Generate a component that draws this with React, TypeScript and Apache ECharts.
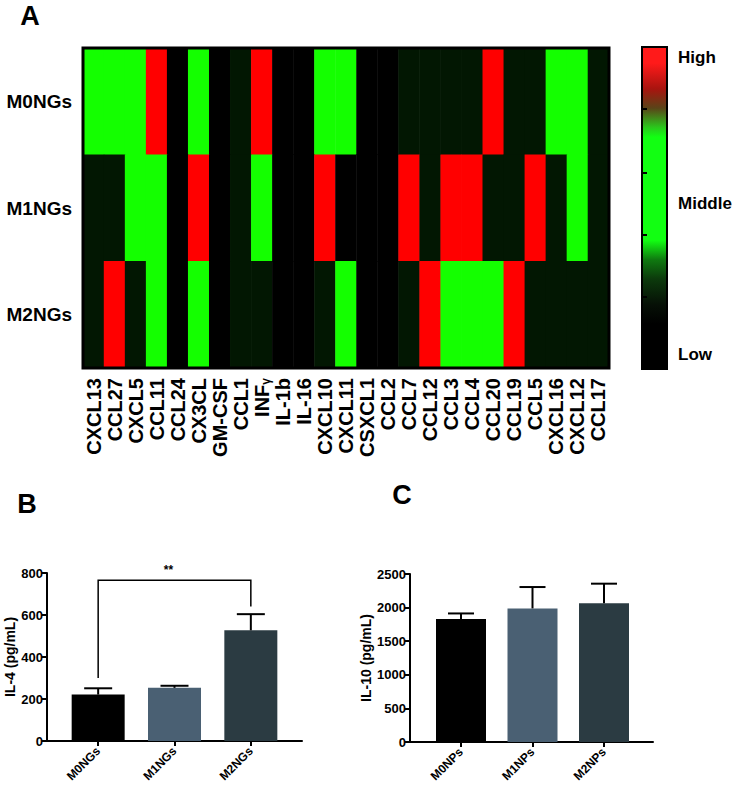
import React, { useEffect, useRef } from "react";
import * as echarts from "echarts";

// ---------- data ----------
const heatCats = [
  "CXCL13", "CCL27", "CXCL5", "CCL11", "CCL24", "CX3CL", "GM-CSF", "CCL1", "INFγ", "IL-1b",
  "IL-16", "CXCL10", "CXCL11", "CSXCL1", "CCL2", "CCL7", "CCL12", "CCL3", "CCL4", "CCL20",
  "CCL19", "CCL5", "CXCL16", "CXCL12", "CCL17",
];
const heatRows = ["M0NGs", "M1NGs", "M2NGs"];
// 0 = low (black), 1 = low-ish (dark green), 2 = middle (green), 3 = high (red)
const heatM0 = [2, 2, 2, 3, 0, 2, 0, 1, 3, 0, 0, 2, 2, 0, 0, 1, 1, 1, 1, 3, 1, 1, 2, 2, 1];
const heatM1 = [1, 1, 2, 2, 0, 3, 0, 1, 2, 0, 0, 3, 0, 0, 0, 3, 1, 3, 3, 1, 1, 3, 1, 2, 1];
const heatM2 = [1, 3, 1, 2, 0, 2, 0, 1, 1, 0, 0, 1, 2, 0, 0, 1, 3, 2, 2, 2, 3, 1, 1, 1, 1];
const legendLabels = ["High", "Middle", "Low"];

const il4Cats = ["M0NGs", "M1NGs", "M2NGs"];
const il4Mean = [221, 253, 527];
const il4Err = [30, 10, 77];
const il4Ticks = [0, 200, 400, 600, 800];
const il4Bracket = { left: 300, top: 765, right: 640, label: "**" };

const il10Cats = ["M0NPs", "M1NPs", "M2NPs"];
const il10Mean = [1829, 1988, 2063];
const il10Err = [84, 318, 293];
const il10Ticks = [0, 500, 1000, 1500, 2000, 2500];

const barColors = ["#000000", "#4a6073", "#2b3b42"];

const FONT = "'Liberation Sans', Arial, Helvetica, sans-serif";

function buildOption() {
  const heatData: number[][] = [];
  [heatM0, heatM1, heatM2].forEach((row, r) => {
    row.forEach((v, c) => heatData.push([c, r, v]));
  });

  const errRender = (capHalf: number) => (params: any, api: any) => {
    const i = api.value(0);
    const m = api.value(1);
    const e = api.value(2);
    const p0 = api.coord([i, m]);
    const p1 = api.coord([i, m + e]);
    return {
      type: "group",
      children: [
        { type: "line", shape: { x1: p0[0], y1: p0[1], x2: p1[0], y2: p1[1] }, style: { stroke: "#000", lineWidth: 2 } },
        { type: "line", shape: { x1: p1[0] - capHalf, y1: p1[1], x2: p1[0] + capHalf, y2: p1[1] }, style: { stroke: "#000", lineWidth: 2 } },
      ],
    };
  };

  const valueAxisCommon = (min: number, max: number, interval: number, name: string, gap: number, gridIndex: number) => ({
    type: "value",
    gridIndex,
    min,
    max,
    interval,
    name,
    nameLocation: "middle",
    nameGap: gap,
    nameTextStyle: { fontFamily: FONT, fontWeight: "bold", fontSize: 14, color: "#000" },
    axisLine: { show: true, lineStyle: { color: "#000", width: 2 } },
    axisTick: { show: true, length: 5, lineStyle: { color: "#000", width: 2 } },
    axisLabel: { fontFamily: FONT, fontWeight: "bold", fontSize: 13, color: "#000", margin: 4, formatter: (v: number) => String(v) },
    splitLine: { show: false },
  });

  const hiddenValueY = (min: number, max: number, gridIndex: number) => ({
    type: "value", gridIndex, min, max, show: false,
  });

  const baseXLine = (gridIndex: number) => ({
    type: "value", gridIndex, min: 0, max: 1,
    axisLine: { show: true, onZero: false, lineStyle: { color: "#000", width: 2 } },
    axisTick: { show: false }, axisLabel: { show: false }, splitLine: { show: false },
  });

  const catX = (cats: string[], gridIndex: number) => ({
    type: "category", gridIndex, data: cats,
    axisLine: { show: false },
    axisTick: { show: true, alignWithLabel: true, length: 5, lineStyle: { color: "#000", width: 2 } },
    axisLabel: { rotate: 45, fontFamily: FONT, fontWeight: "bold", fontSize: 12, color: "#000", margin: 8, interval: 0 },
  });

  const gradient = new echarts.graphic.LinearGradient(0, 0, 0, 1, [
    { offset: 0, color: "#ff1a1a" },
    { offset: 0.05, color: "#ff1a1a" },
    { offset: 0.13, color: "#a8140f" },
    { offset: 0.19, color: "#5a4418" },
    { offset: 0.25, color: "#2ac81c" },
    { offset: 0.28, color: "#12ff12" },
    { offset: 0.6, color: "#12ff12" },
    { offset: 0.66, color: "#0f7a10" },
    { offset: 0.72, color: "#0c3a0c" },
    { offset: 0.8, color: "#061006" },
    { offset: 0.86, color: "#000000" },
    { offset: 1, color: "#000000" },
  ]);

  const legendTicks = [109, 173, 235, 297].map((y) => ({
    type: "line", shape: { x1: 642, y1: y, x2: 647, y2: y }, style: { stroke: "#000", lineWidth: 2 },
  }));

  const letter = (t: string, x: number, y: number) => ({
    type: "text", x, y,
    style: { text: t, fontFamily: FONT, fontWeight: "bold", fontSize: 27, fill: "#000", textAlign: "center", textVerticalAlign: "middle" },
  });
  const legText = (t: string, y: number) => ({
    type: "text", x: 678, y,
    style: { text: t, fontFamily: FONT, fontWeight: "bold", fontSize: 17, fill: "#000", textAlign: "left", textVerticalAlign: "middle" },
  });

  return {
    animation: false,
    backgroundColor: "#fff",
    grid: [
      { left: 47, top: 573, width: 255, height: 168 }, // 0 B axes
      { left: 60, top: 573, width: 229, height: 168 }, // 1 B bars
      { left: 410, top: 574, width: 243, height: 168 }, // 2 C axes
      { left: 425.25, top: 574, width: 214.5, height: 168 }, // 3 C bars
      { left: 83, top: 48, width: 526, height: 320, show: true, borderColor: "#000", borderWidth: 3, backgroundColor: "transparent", z: 10 }, // 4 heatmap
    ],
    xAxis: [
      baseXLine(0),
      catX(il4Cats, 1),
      baseXLine(2),
      catX(il10Cats, 3),
      {
        type: "category", gridIndex: 4, data: heatCats,
        axisLine: { show: false }, axisTick: { show: false }, splitLine: { show: false },
        axisLabel: {
          rotate: 90, interval: 0, margin: 10, fontFamily: FONT, fontWeight: "bold", fontSize: 20, color: "#000",
          formatter: (v: string) => (v === "INFγ" ? "{a|INF}{b|γ}" : v),
          rich: {
            a: { fontFamily: FONT, fontWeight: "bold", fontSize: 20, color: "#000" },
            b: { fontFamily: FONT, fontWeight: "bold", fontSize: 12, color: "#000", verticalAlign: "bottom" },
          },
        },
      },
    ],
    yAxis: [
      valueAxisCommon(il4Ticks[0], il4Ticks[il4Ticks.length - 1], il4Ticks[1] - il4Ticks[0], "IL-4 (pg/mL)", 30, 0),
      hiddenValueY(il4Ticks[0], il4Ticks[il4Ticks.length - 1], 1),
      valueAxisCommon(il10Ticks[0], il10Ticks[il10Ticks.length - 1], il10Ticks[1] - il10Ticks[0], "IL-10 (pg/mL)", 33, 2),
      hiddenValueY(il10Ticks[0], il10Ticks[il10Ticks.length - 1], 3),
      {
        type: "category", gridIndex: 4, data: heatRows, inverse: true,
        axisLine: { show: false }, axisTick: { show: false }, splitLine: { show: false },
        axisLabel: { margin: 11, fontFamily: FONT, fontWeight: "bold", fontSize: 19, color: "#000" },
      },
    ],
    visualMap: {
      type: "piecewise",
      show: false,
      seriesIndex: 0,
      dimension: 2,
      pieces: [
        { value: 0, color: "#000000" },
        { value: 1, color: "#021702" },
        { value: 2, color: "#14ff00" },
        { value: 3, color: "#ff0000" },
      ],
    },
    series: [
      {
        type: "heatmap", xAxisIndex: 4, yAxisIndex: 4, data: heatData,
        itemStyle: { borderWidth: 0 }, emphasis: { disabled: true },
      },
      {
        type: "bar", xAxisIndex: 1, yAxisIndex: 1, barWidth: 53,
        data: il4Mean.map((v, i) => ({ value: v, itemStyle: { color: barColors[i] } })),
      },
      {
        type: "custom", xAxisIndex: 1, yAxisIndex: 1, z: 3,
        data: il4Mean.map((v, i) => [i, v, il4Err[i]]),
        renderItem: errRender(14),
      },
      {
        type: "custom", xAxisIndex: 1, yAxisIndex: 1, z: 3,
        data: [[0, 2, il4Bracket.left, il4Bracket.top, il4Bracket.right]],
        renderItem: (params: any, api: any) => {
          const a = api.value(0), b = api.value(1);
          const pl = api.coord([a, api.value(2)]);
          const pt = api.coord([a, api.value(3)]);
          const pr = api.coord([b, api.value(3)]);
          const pb = api.coord([b, api.value(4)]);
          const mid = api.coord([1, api.value(3)]);
          return {
            type: "group",
            children: [
              { type: "polyline", shape: { points: [pl, pt, pr, pb] }, style: { stroke: "#000", lineWidth: 1.5, fill: null } },
              {
                type: "text", x: mid[0] - 6, y: mid[1] - 10,
                style: { text: il4Bracket.label, fontFamily: FONT, fontWeight: "bold", fontSize: 12, fill: "#000", textAlign: "center", textVerticalAlign: "middle" },
              },
            ],
          };
        },
      },
      {
        type: "bar", xAxisIndex: 3, yAxisIndex: 3, barWidth: 50,
        data: il10Mean.map((v, i) => ({ value: v, itemStyle: { color: barColors[i] } })),
      },
      {
        type: "custom", xAxisIndex: 3, yAxisIndex: 3, z: 3,
        data: il10Mean.map((v, i) => [i, v, il10Err[i]]),
        renderItem: errRender(13),
      },
    ],
    graphic: [
      letter("A", 30, 16),
      letter("B", 27, 504),
      letter("C", 402, 495),
      {
        type: "rect", shape: { x: 642, y: 47, width: 25, height: 322 },
        style: { fill: gradient, stroke: "#000", lineWidth: 2 },
      },
      ...legendTicks,
      legText(legendLabels[0], 57),
      legText(legendLabels[1], 203),
      legText(legendLabels[2], 354),
    ],
  };
}

export default function App() {
  const ref = useRef<HTMLDivElement>(null);
  useEffect(() => {
    document.body.style.margin = "0";
    if (!ref.current) return;
    const chart = echarts.init(ref.current, undefined, { renderer: "svg" });
    chart.setOption(buildOption() as any);
    return () => chart.dispose();
  }, []);
  return <div ref={ref} style={{ width: 734, height: 789, position: "absolute", left: 0, top: 0 }} />;
}
